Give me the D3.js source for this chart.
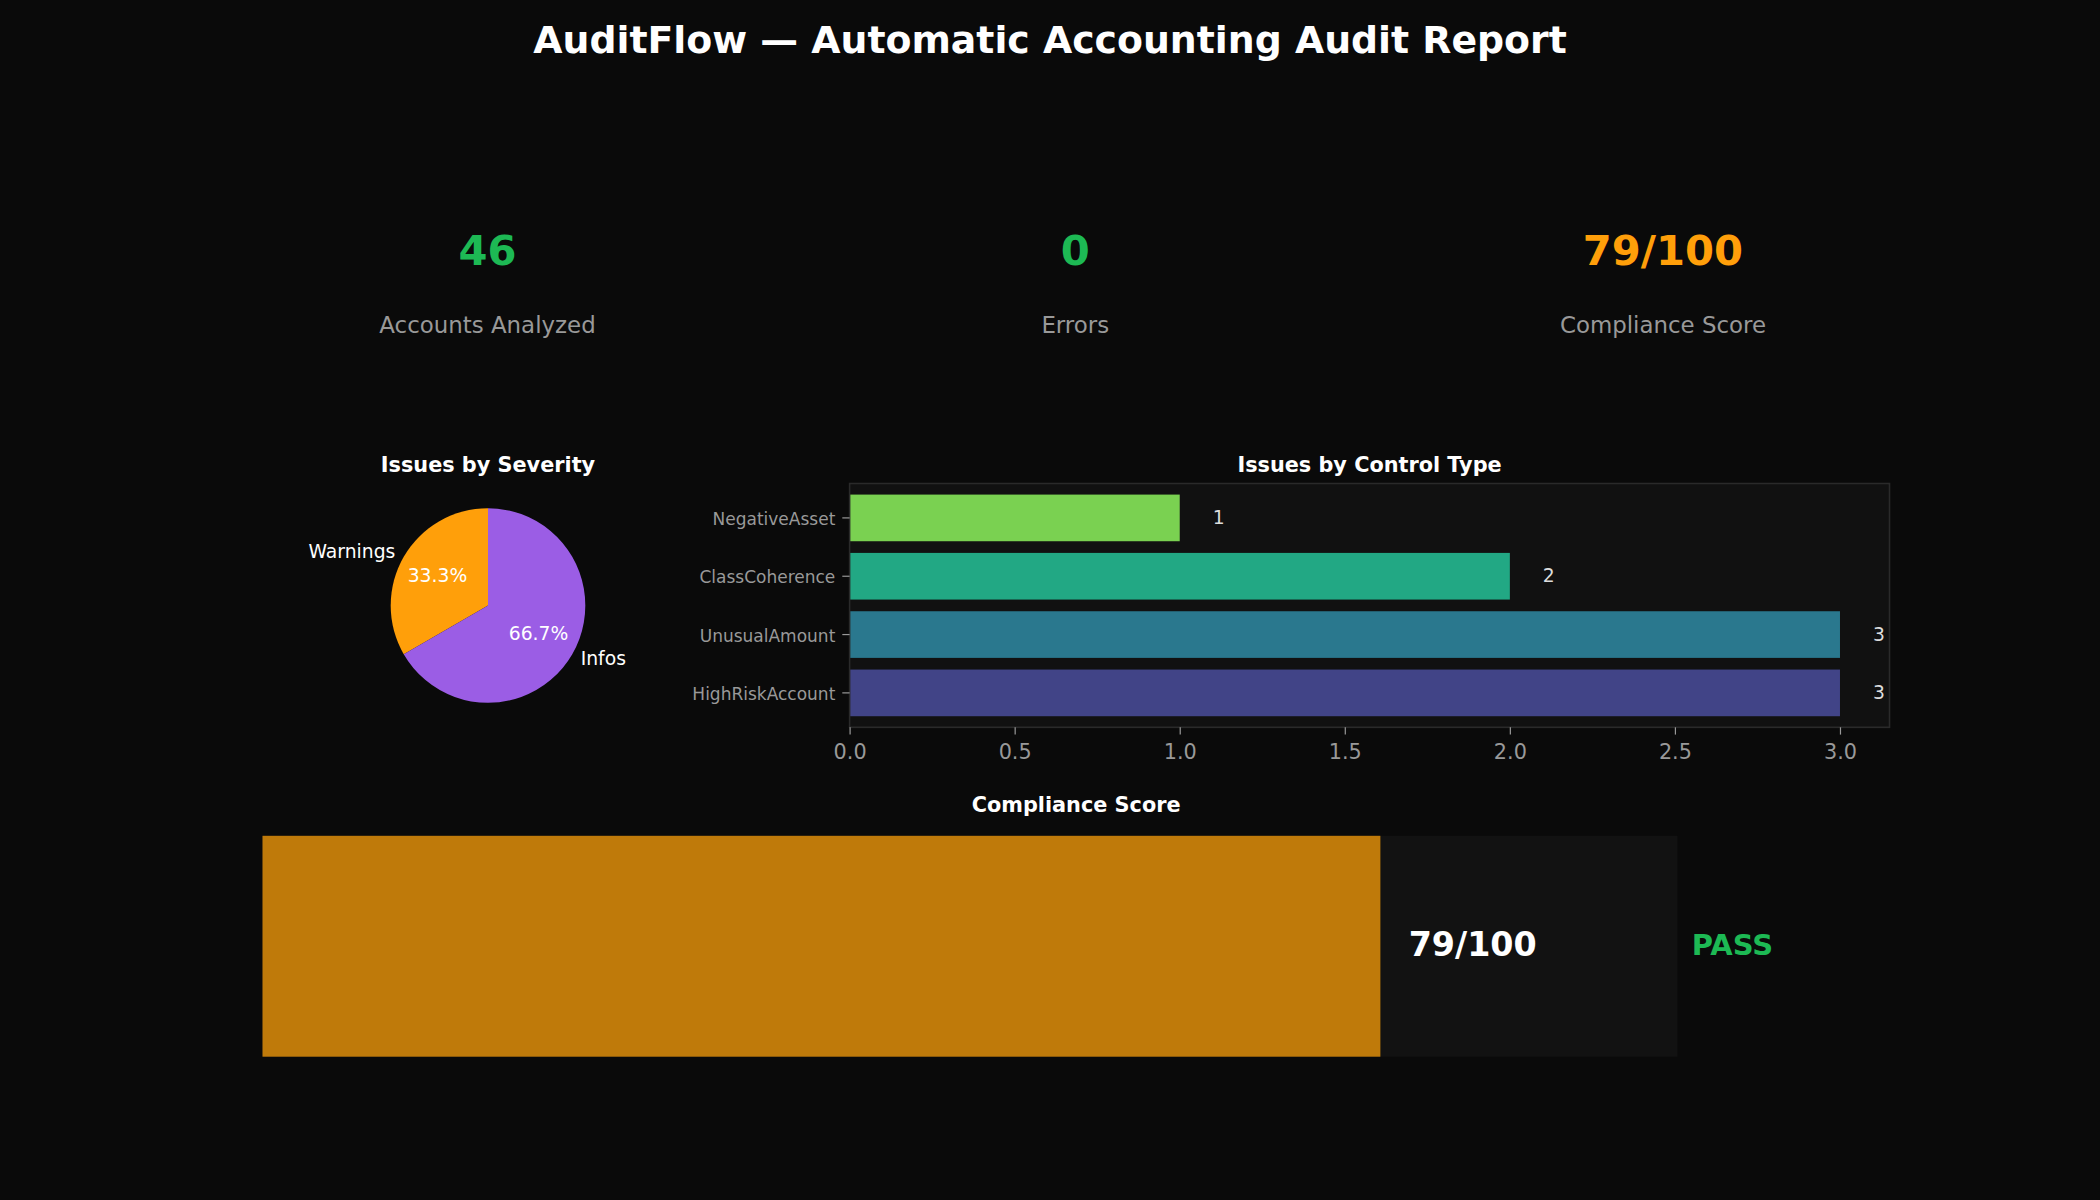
<!DOCTYPE html>
<html>
<head>
<meta charset="utf-8">
<script src="https://cdn.jsdelivr.net/npm/d3@7"></script>
<style>
  html, body { margin: 0; padding: 0; background: #0a0a0a; }
  svg { display: block; font-family: "DejaVu Sans", sans-serif; }
</style>
</head>
<body>
<svg id="chart" width="2100" height="1200"></svg>
<script>
// ---------- data ----------
const chartTitle = "AuditFlow — Automatic Accounting Audit Report";
const kpiValues = ["46", "0", "79/100"];
const kpiLabels = ["Accounts Analyzed", "Errors", "Compliance Score"];
const kpiColors = ["#1DB954", "#1DB954", "#FF9F0A"];

const severityLabels = ["Warnings", "Infos"];
const severityCounts = [3, 6];
const severityColors = ["#FF9F0A", "#9B5DE5"];

const controlTypes = ["NegativeAsset", "ClassCoherence", "UnusualAmount", "HighRiskAccount"];
const controlCounts = [1, 2, 3, 3];
const controlColors = ["#7AD151", "#22A884", "#2A788E", "#414487"];
const controlTicks = [0, 0.5, 1.0, 1.5, 2.0, 2.5, 3.0];

const complianceScore = 79;
const complianceMax = 100;
const complianceStatus = "PASS";

// ---------- drawing ----------
const svg = d3.select("#chart");
svg.append("rect").attr("width", 2100).attr("height", 1200).attr("fill", "#0a0a0a");

svg.append("text")
  .attr("x", 1050).attr("y", 53)
  .attr("text-anchor", "middle")
  .attr("fill", "#ffffff").attr("font-weight", "bold").attr("font-size", 37.8)
  .text(chartTitle);

// KPI row
const kpiX = d3.scalePoint().domain(d3.range(kpiValues.length)).range([487.5, 1663]);
kpiValues.forEach((v, i) => {
  svg.append("text")
    .attr("x", kpiX(i)).attr("y", 265)
    .attr("text-anchor", "middle")
    .attr("fill", kpiColors[i]).attr("font-weight", "bold").attr("font-size", 41.7)
    .text(v);
  svg.append("text")
    .attr("x", kpiX(i)).attr("y", 332.5)
    .attr("text-anchor", "middle")
    .attr("fill", "#999999").attr("font-size", 22.9)
    .text(kpiLabels[i]);
});

// Pie: Issues by Severity
const pcx = 488, pcy = 605.5, pr = 97.3;
svg.append("text")
  .attr("x", pcx).attr("y", 472)
  .attr("text-anchor", "middle")
  .attr("fill", "#ffffff").attr("font-weight", "bold").attr("font-size", 20.8)
  .text("Issues by Severity");

const pie = d3.pie().sort(null).startAngle(0).endAngle(-2 * Math.PI);
const arcs = pie(severityCounts);
const arcGen = d3.arc().innerRadius(0).outerRadius(pr);
const total = d3.sum(severityCounts);
const pg = svg.append("g").attr("transform", `translate(${pcx},${pcy})`);
pg.selectAll("path").data(arcs).join("path")
  .attr("d", arcGen)
  .attr("fill", (d, i) => severityColors[i]);
arcs.forEach((a, i) => {
  const mid = (a.startAngle + a.endAngle) / 2;
  const lx = Math.sin(mid) * pr * 1.1, ly = -Math.cos(mid) * pr * 1.1;
  pg.append("text")
    .attr("x", lx).attr("y", ly).attr("dy", "0.3em")
    .attr("text-anchor", lx < 0 ? "end" : "start")
    .attr("fill", "#ffffff").attr("font-size", 18.75)
    .text(severityLabels[i]);
  const px = Math.sin(mid) * pr * 0.6, py = -Math.cos(mid) * pr * 0.6;
  pg.append("text")
    .attr("x", px).attr("y", py).attr("dy", "0.28em")
    .attr("text-anchor", "middle")
    .attr("fill", "#ffffff").attr("font-size", 18.75)
    .text((a.data / total * 100).toFixed(1) + "%");
});

// Bar chart: Issues by Control Type
const bx0 = 849.6, bx1 = 1889.5, by0 = 483.5, by1 = 727.3;
const x = d3.scaleLinear().domain([0, 3.15]).range([bx0, bx1]);
const y = d3.scaleBand().domain(controlTypes).range([by0, by1]).paddingInner(0.2).paddingOuter(0.19);

svg.append("text")
  .attr("x", (bx0 + bx1) / 2).attr("y", 472)
  .attr("text-anchor", "middle")
  .attr("fill", "#ffffff").attr("font-weight", "bold").attr("font-size", 20.8)
  .text("Issues by Control Type");

svg.append("rect")
  .attr("x", bx0).attr("y", by0).attr("width", bx1 - bx0).attr("height", by1 - by0)
  .attr("fill", "#111111");

svg.append("g").selectAll("rect").data(controlTypes).join("rect")
  .attr("x", x(0)).attr("y", d => y(d))
  .attr("width", (d, i) => x(controlCounts[i]) - x(0))
  .attr("height", y.bandwidth())
  .attr("fill", (d, i) => controlColors[i]);

svg.append("g").selectAll("text").data(controlTypes).join("text")
  .attr("x", (d, i) => x(controlCounts[i] + 0.1))
  .attr("y", d => y(d) + y.bandwidth() / 2)
  .attr("dy", "0.33em")
  .attr("fill", "#dddddd").attr("font-size", 18.75)
  .text((d, i) => controlCounts[i]);

svg.append("rect")
  .attr("x", bx0).attr("y", by0).attr("width", bx1 - bx0).attr("height", by1 - by0)
  .attr("fill", "none").attr("stroke", "#2a2a2a").attr("stroke-width", 1.6);

const xAxis = svg.append("g").attr("transform", `translate(0,${by1})`)
  .call(d3.axisBottom(x).tickValues(controlTicks).tickFormat(d3.format(".1f")).tickSize(7.3).tickPadding(6));
xAxis.select(".domain").remove();
xAxis.selectAll("line").attr("stroke", "#999999").attr("stroke-width", 1.2);
xAxis.selectAll("text").attr("fill", "#999999").attr("font-size", 20.8)
  .attr("font-family", "DejaVu Sans").attr("dy", "0.87em");

const yAxis = svg.append("g").attr("transform", `translate(${bx0},0)`)
  .call(d3.axisLeft(y).tickSize(7.3).tickPadding(7));
yAxis.select(".domain").remove();
yAxis.selectAll("line").attr("stroke", "#999999").attr("stroke-width", 1.2);
yAxis.selectAll("text").attr("fill", "#999999").attr("font-size", 17)
  .attr("font-family", "DejaVu Sans").attr("dy", "0.42em");

// Compliance score bar
const cx = d3.scaleLinear().domain([0, 115]).range([262.5, 1889.8]);
const cy0 = 835.8, cy1 = 1056.7;
svg.append("text")
  .attr("x", (cx(0) + cx(115)) / 2).attr("y", 812)
  .attr("text-anchor", "middle")
  .attr("fill", "#ffffff").attr("font-weight", "bold").attr("font-size", 20.8)
  .text("Compliance Score");
svg.append("rect")
  .attr("x", cx(0)).attr("y", cy0).attr("width", cx(complianceMax) - cx(0)).attr("height", cy1 - cy0)
  .attr("fill", "#121212");
svg.append("rect")
  .attr("x", cx(0)).attr("y", cy0).attr("width", cx(complianceScore) - cx(0)).attr("height", cy1 - cy0)
  .attr("fill", "#BF7A0A");
svg.append("text")
  .attr("x", cx(complianceScore + 2)).attr("y", (cy0 + cy1) / 2).attr("dy", "0.3em")
  .attr("fill", "#ffffff").attr("font-weight", "bold").attr("font-size", 33.3)
  .text(`${complianceScore}/${complianceMax}`);
svg.append("text")
  .attr("x", cx(complianceMax + 1)).attr("y", (cy0 + cy1) / 2).attr("dy", "0.3em")
  .attr("fill", "#1DB954").attr("font-weight", "bold").attr("font-size", 29)
  .text(complianceStatus);
</script>
</body>
</html>
